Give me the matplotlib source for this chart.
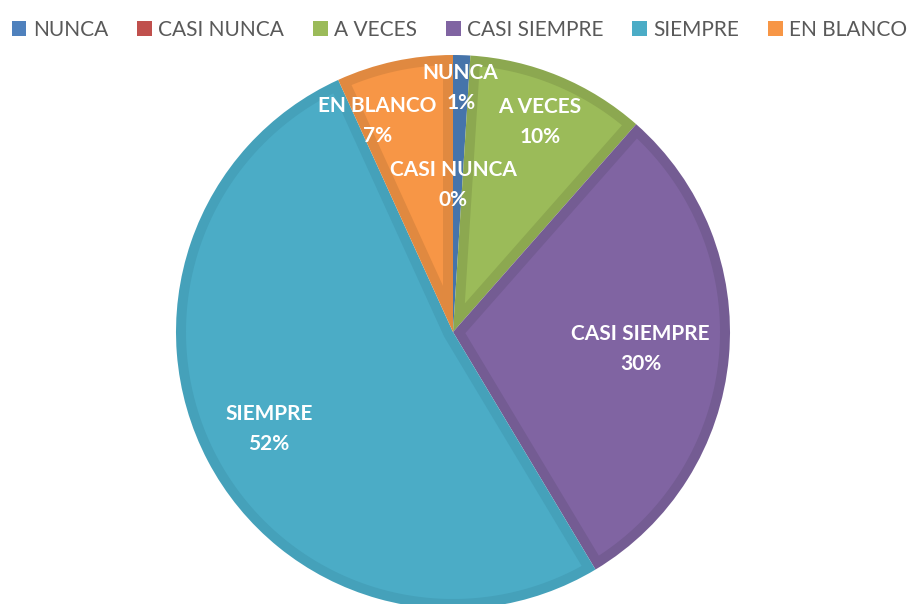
import numpy as np
import matplotlib.pyplot as plt
from matplotlib.patches import Patch, Polygon

# respuestas de la encuesta (porcentaje)
categorias = ['NUNCA', 'CASI NUNCA', 'A VECES', 'CASI SIEMPRE', 'SIEMPRE', 'EN BLANCO']
valores = [1.0, 0.0, 10.5, 29.9, 51.8, 6.8]
etiquetas_pct = ['1%', '0%', '10%', '30%', '52%', '7%']

colores = ['#4F81BD', '#C0504D', '#9BBB59', '#8064A2', '#4BACC6', '#F79646']
bordes = ['#4674AA', '#AD4845', '#8CA850', '#745C93', '#45A1BA', '#E08940']

# posicion de las etiquetas: (radio relativo, desplazamiento angular en grados)
pos_etiquetas = [(0.88, 0), (0.53, 3.6), (0.82, 0), (0.68, 0), (0.75, 0), (0.81, 7.5)]

plt.rcParams['font.family'] = ['Lato', 'DejaVu Sans']

fig = plt.figure(figsize=(9.1, 6.04), dpi=100)
ax = fig.add_axes([0, 0, 1, 1])

R = 277.0
cx, cy = 453.0, 604 - 332.0
borde = 10.0 / R

# pastel base con el color del borde
wedges, _ = ax.pie(valores, colors=bordes, startangle=90, counterclock=False,
                   radius=1.0, center=(0, 0), frame=False)

# relleno interior (cuna desplazada hacia dentro)
for w, c in zip(wedges, colores):
    t1, t2 = np.radians(w.theta1), np.radians(w.theta2)
    barrido = t2 - t1
    if barrido <= 0:
        continue
    bis = (t1 + t2) / 2
    d_apex = borde / np.sin(barrido / 2)
    apex = (d_apex * np.cos(bis), d_apex * np.sin(bis))
    ri = 1.0 - borde
    da = np.arcsin(borde / ri)
    if t2 - da <= t1 + da:
        continue
    th = np.linspace(t1 + da, t2 - da, 200)
    pts = [apex] + list(zip(ri * np.cos(th), ri * np.sin(th)))
    ax.add_patch(Polygon(pts, closed=True, facecolor=c, edgecolor='none'))

ax.set_xlim(-cx / R, (910 - cx) / R)
ax.set_ylim(-cy / R, (604 - cy) / R)
ax.set_aspect('equal')
ax.axis('off')

# etiquetas dentro del pastel
ang = 90.0
for cat, v, pct, (r, d) in zip(categorias, valores, etiquetas_pct, pos_etiquetas):
    mid = ang - v * 3.6 / 2 + d
    ang -= v * 3.6
    x = r * np.cos(np.radians(mid))
    y = r * np.sin(np.radians(mid))
    ax.text(x, y, cat + '\n' + pct, ha='center', va='center', color='white',
            fontsize=15, fontweight='bold', linespacing=1.62)

handles = [Patch(facecolor=c, edgecolor='none') for c in colores]
fig.legend(handles, categorias, loc='upper center', bbox_to_anchor=(0.505, 1.0),
           ncol=6, frameon=False, fontsize=15, labelcolor='#595959',
           handlelength=0.7, handleheight=0.7, handletextpad=0.3,
           columnspacing=1.4, borderaxespad=0.55)

fig.savefig('out.png', dpi=100)
